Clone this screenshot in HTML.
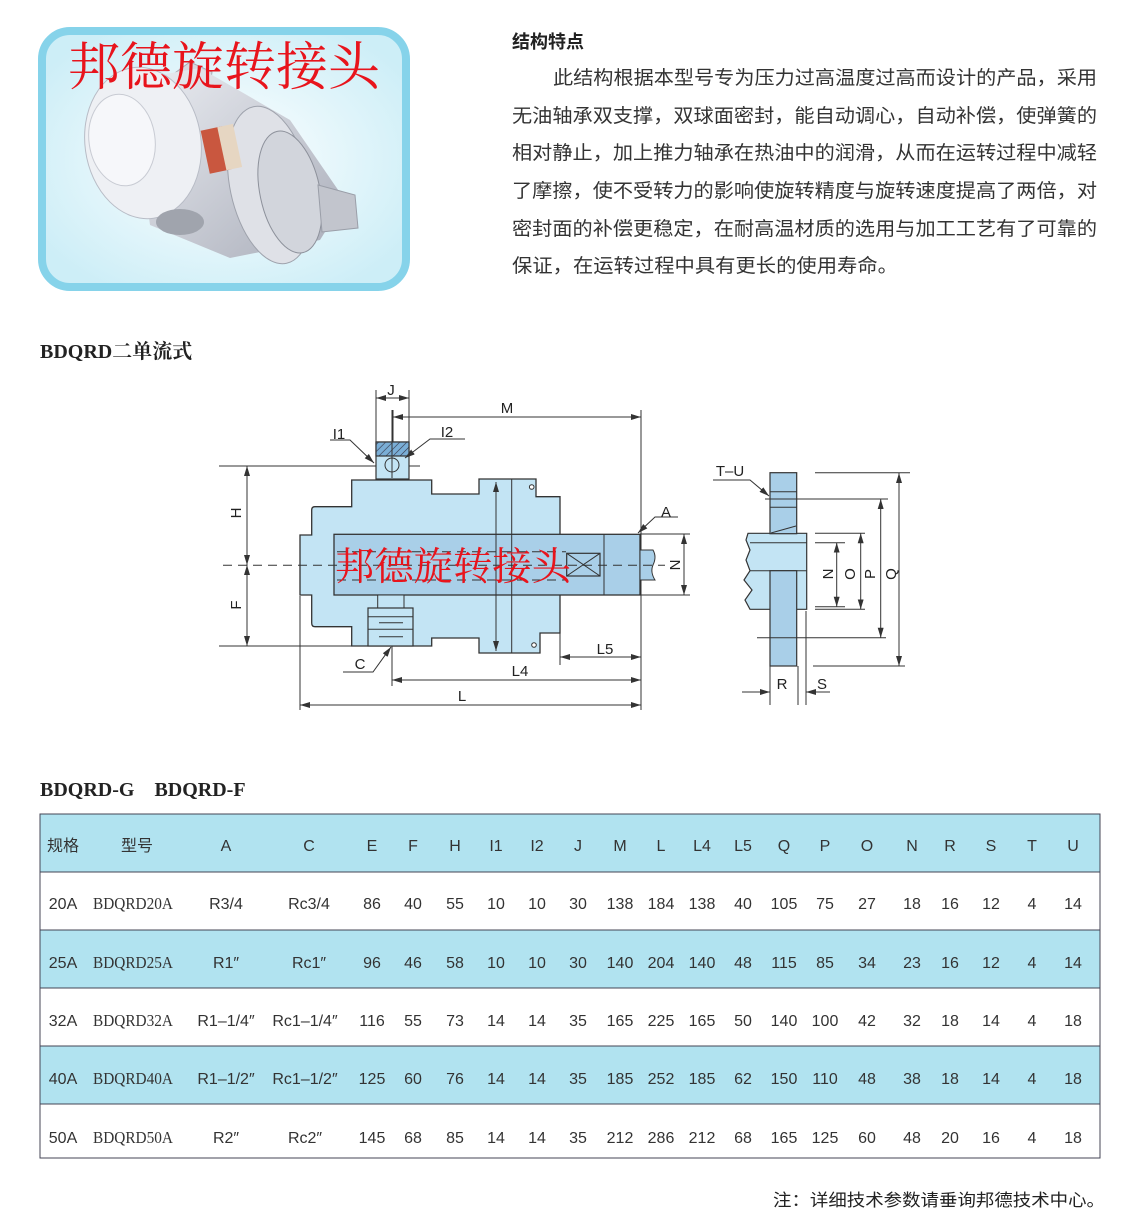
<!DOCTYPE html>
<html><head><meta charset="utf-8"><style>
html,body{margin:0;padding:0;background:#fff;}
svg{display:block;}
.s{font-family:"Liberation Sans","Noto Sans CJK SC",sans-serif;}
.c{font-family:"Liberation Sans","Noto Sans CJK SC",sans-serif;}
.sf{font-family:"Liberation Serif","Noto Serif CJK SC",serif;}
</style></head><body>
<svg width="1134" height="1230" viewBox="0 0 1134 1230" xmlns="http://www.w3.org/2000/svg">
<defs>
<radialGradient id="pg" cx="50%" cy="50%" r="60%"><stop offset="0" stop-color="#ffffff"/><stop offset="1" stop-color="#cdeef7"/></radialGradient>
<linearGradient id="dv" x1="0" y1="0" x2="1" y2="1"><stop offset="0" stop-color="#eceef3"/><stop offset="1" stop-color="#a9adb9"/></linearGradient>
<pattern id="hat" width="5" height="5" patternUnits="userSpaceOnUse" patternTransform="rotate(45)"><rect width="5" height="5" fill="#7aaed6"/><line x1="0" y1="0" x2="0" y2="5" stroke="#334" stroke-width="1.2"/></pattern>
<marker id="ar" markerWidth="10" markerHeight="6" refX="10" refY="3" orient="auto-start-reverse" markerUnits="userSpaceOnUse"><path d="M0,0 L10,3 L0,6 Z" fill="#333"/></marker>
</defs>

<!-- photo -->
<rect x="42" y="31" width="364" height="256" rx="28" fill="url(#pg)" stroke="#86d3ea" stroke-width="8"/>
<g>
<path d="M172,75 L190,62 L212,72 L208,100 Z" fill="#d6d9e0" stroke="#a8acb6"/>
<path d="M130,80 L200,68 L290,120 L345,200 L320,240 L230,258 L150,225 Z" fill="url(#dv)"/>
<ellipse cx="270" cy="185" rx="40" ry="80" transform="rotate(-12 270 185)" fill="#dfe1e7" stroke="#9ea2ac"/>
<ellipse cx="290" cy="192" rx="30" ry="62" transform="rotate(-12 290 192)" fill="#d2d5dc" stroke="#8d919b"/>
<path d="M318,185 L355,195 L358,228 L322,232 Z" fill="#c2c5cd" stroke="#9a9ea8"/>
<ellipse cx="143" cy="143" rx="58" ry="76" transform="rotate(-8 143 143)" fill="#eef0f4" stroke="#b8bcc6"/>
<ellipse cx="122" cy="140" rx="33" ry="46" transform="rotate(-8 122 140)" fill="#f6f7fa" stroke="#c8cbd3"/>
<ellipse cx="180" cy="222" rx="24" ry="13" fill="#a0a4ad"/>
<rect x="205" y="128" width="22" height="44" fill="#c9573f" transform="rotate(-12 216 150)"/>
<rect x="222" y="128" width="16" height="44" fill="#e6d6c2" transform="rotate(-12 216 150)"/>
</g>
<text x="68" y="85" class="sf" font-size="52" fill="#e8141c">邦德旋转接头</text>

<!-- description -->
<text x="512" y="48" class="c" font-size="18" font-weight="bold" fill="#222">结构特点</text>
<g class="c" font-size="19" fill="#333">
<text x="553" y="84" textLength="544" lengthAdjust="spacingAndGlyphs">此结构根据本型号专为压力过高温度过高而设计的产品，采用</text>
<text x="512" y="122" textLength="585" lengthAdjust="spacingAndGlyphs">无油轴承双支撑，双球面密封，能自动调心，自动补偿，使弹簧的</text>
<text x="512" y="159" textLength="585" lengthAdjust="spacingAndGlyphs">相对静止，加上推力轴承在热油中的润滑，从而在运转过程中减轻</text>
<text x="512" y="197" textLength="585" lengthAdjust="spacingAndGlyphs">了摩擦，使不受转力的影响使旋转精度与旋转速度提高了两倍，对</text>
<text x="512" y="235" textLength="585" lengthAdjust="spacingAndGlyphs">密封面的补偿更稳定，在耐高温材质的选用与加工工艺有了可靠的</text>
<text x="512" y="272" textLength="386" lengthAdjust="spacingAndGlyphs">保证，在运转过程中具有更长的使用寿命。</text>
</g>

<text x="40" y="358" class="sf" font-size="20" font-weight="bold" fill="#222">BDQRD二单流式</text>

<!-- main drawing -->
<g stroke="#333" stroke-width="1" fill="none">
<line x1="376" y1="390" x2="376" y2="442"/><line x1="409" y1="390" x2="409" y2="442"/>
<line x1="393" y1="410" x2="393" y2="470"/>
<line x1="641" y1="410" x2="641" y2="710"/>
<line x1="219" y1="466" x2="420" y2="466"/>
<line x1="219" y1="646" x2="390" y2="646"/>
<line x1="560" y1="596" x2="560" y2="665"/>
<line x1="392" y1="646" x2="392" y2="686"/>
<line x1="300" y1="596" x2="300" y2="710"/>
</g>
<path d="M300,535 L311.7,535 L311.7,510 Q311.7,506.7 315,506.7 L351.7,506.7 L351.7,480 L431.7,480 L431.7,494 L479,494 L479,479 L536,479 L536,496.7 L560,496.7 L560,633 L540,633 L540,653 L479,653 L479,638 L431.7,638 L431.7,646 L351.7,646 L351.7,626.7 L315,626.7 Q311.7,626.7 311.7,623 L311.7,595 L300,595 Z" fill="#c3e4f4" stroke="#333" stroke-width="1.3"/>
<rect x="334" y="534.3" width="306" height="60.7" fill="#a9cfe8" stroke="#333" stroke-width="1.3"/>
<line x1="604" y1="534.3" x2="604" y2="595" stroke="#333"/>
<path d="M640,550 L653,550 Q657,557 653,565 Q650,572 655,580 L640,580 Z" fill="#a9cfe8" stroke="#333"/>
<rect x="566.7" y="553.3" width="33.3" height="22.7" fill="none" stroke="#333" stroke-width="1.2"/>
<line x1="566.7" y1="553.3" x2="600" y2="576" stroke="#333"/><line x1="566.7" y1="576" x2="600" y2="553.3" stroke="#333"/>
<line x1="511.7" y1="479" x2="511.7" y2="653" stroke="#333"/>
<circle cx="531.7" cy="487" r="2.3" fill="#fff" stroke="#333"/>
<circle cx="534" cy="645" r="2.3" fill="#fff" stroke="#333"/>
<rect x="376" y="442" width="33" height="37" fill="#c3e4f4" stroke="#333" stroke-width="1.2"/>
<rect x="376" y="442" width="33" height="14" fill="url(#hat)" stroke="#333" stroke-width="1.2"/>
<circle cx="392" cy="465" r="7" fill="none" stroke="#333"/>
<line x1="392" y1="410" x2="392" y2="478" stroke="#333"/>
<rect x="377.7" y="595" width="26.3" height="13" fill="#c3e4f4" stroke="#333"/>
<rect x="368" y="608" width="45" height="38" fill="#c3e4f4" stroke="#333" stroke-width="1.2"/>
<line x1="368" y1="616.7" x2="413" y2="616.7" stroke="#333"/><line x1="368" y1="629.3" x2="413" y2="629.3" stroke="#333"/>
<line x1="379" y1="622.7" x2="403" y2="622.7" stroke="#333"/><line x1="379" y1="636.7" x2="403" y2="636.7" stroke="#333"/>
<g stroke="#333" stroke-dasharray="9,6">
<line x1="223" y1="565.3" x2="665" y2="565.3"/>
<line x1="337" y1="551.7" x2="566" y2="551.7"/>
<line x1="337" y1="580" x2="566" y2="580"/>
</g>
<g stroke="#333" stroke-width="1" fill="none">
<line x1="376" y1="398" x2="409" y2="398" marker-start="url(#ar)" marker-end="url(#ar)"/>
<line x1="393" y1="417" x2="641" y2="417" marker-start="url(#ar)" marker-end="url(#ar)"/>
<line x1="247" y1="466" x2="247" y2="565" marker-start="url(#ar)" marker-end="url(#ar)"/>
<line x1="247" y1="565" x2="247" y2="646" marker-start="url(#ar)" marker-end="url(#ar)"/>
<line x1="496" y1="482" x2="496" y2="651" marker-start="url(#ar)" marker-end="url(#ar)"/>
<line x1="560" y1="657" x2="641" y2="657" marker-start="url(#ar)" marker-end="url(#ar)"/>
<line x1="392" y1="680" x2="641" y2="680" marker-start="url(#ar)" marker-end="url(#ar)"/>
<line x1="300" y1="705" x2="641" y2="705" marker-start="url(#ar)" marker-end="url(#ar)"/>
<line x1="640" y1="534" x2="690" y2="534"/><line x1="640" y1="595" x2="690" y2="595"/>
<line x1="684" y1="534" x2="684" y2="595" marker-start="url(#ar)" marker-end="url(#ar)"/>
<polyline points="330,440 350,440 374,463" marker-end="url(#ar)"/>
<polyline points="465,439 430,439 405,458" marker-end="url(#ar)"/>
<polyline points="343,672 373,672 391,647" marker-end="url(#ar)"/>
<polyline points="678,517 655,517 638,533" marker-end="url(#ar)"/>
</g>
<g class="s" font-size="15" fill="#222" text-anchor="middle">
<text x="391" y="395">J</text>
<text x="507" y="413">M</text>
<text x="339" y="439">I1</text>
<text x="447" y="437">I2</text>
<text x="666" y="517">A</text>
<text x="360" y="669">C</text>
<text x="605" y="654">L5</text>
<text x="520" y="676">L4</text>
<text x="462" y="701">L</text>
<text x="236" y="513" transform="rotate(-90 236 513)" dy="5">H</text>
<text x="236" y="605" transform="rotate(-90 236 605)" dy="5">F</text>
<text x="675" y="565" transform="rotate(-90 675 565)" dy="5">N</text>
</g>
<text x="335" y="580" class="sf" font-size="39" fill="#e8141c" textLength="236" lengthAdjust="spacingAndGlyphs">邦德旋转接头</text>

<!-- side view -->
<path d="M748,533.3 L806.7,533.3 L806.7,609.3 L750,609.3 L745,600 L752,590 L744,580 L750,570.7 L746,560 L750,550 L746,540 Z" fill="#c3e4f4" stroke="#333" stroke-width="1.2"/>
<line x1="750" y1="542.7" x2="806.7" y2="542.7" stroke="#333"/>
<line x1="750" y1="570.7" x2="806.7" y2="570.7" stroke="#333"/>
<rect x="770" y="472.7" width="26.7" height="61" fill="#a9cfe8" stroke="#333" stroke-width="1.2"/>
<rect x="770" y="570.7" width="26.7" height="95.3" fill="#a9cfe8" stroke="#333" stroke-width="1.2"/>
<line x1="770" y1="491.7" x2="796.7" y2="491.7" stroke="#333"/>
<line x1="770" y1="507.3" x2="796.7" y2="507.3" stroke="#333"/>
<line x1="771" y1="533" x2="796" y2="526" stroke="#333"/>
<g stroke="#333" stroke-width="1" fill="none">
<line x1="815" y1="472.7" x2="910" y2="472.7"/><line x1="813" y1="666" x2="905" y2="666"/>
<line x1="899" y1="473" x2="899" y2="666" marker-start="url(#ar)" marker-end="url(#ar)"/>
<line x1="765" y1="499" x2="888" y2="499"/><line x1="757" y1="637.7" x2="886" y2="637.7"/>
<line x1="880.7" y1="499" x2="880.7" y2="637.7" marker-start="url(#ar)" marker-end="url(#ar)"/>
<line x1="815" y1="533.3" x2="865" y2="533.3"/><line x1="815" y1="609.3" x2="865" y2="609.3"/>
<line x1="860.7" y1="533.3" x2="860.7" y2="609.3" marker-start="url(#ar)" marker-end="url(#ar)"/>
<line x1="815" y1="542.7" x2="845" y2="542.7"/><line x1="815" y1="606.7" x2="845" y2="606.7"/>
<line x1="836.7" y1="542.7" x2="836.7" y2="606.7" marker-start="url(#ar)" marker-end="url(#ar)"/>
<polyline points="713,480 750,480 769,496" marker-end="url(#ar)"/>
<line x1="770" y1="666" x2="770" y2="705"/><line x1="798" y1="666" x2="798" y2="705"/><line x1="806" y1="611" x2="806" y2="705"/>
<line x1="742" y1="692" x2="770" y2="692" marker-end="url(#ar)"/>
<line x1="830" y1="692" x2="806" y2="692" marker-end="url(#ar)"/>
</g>
<g class="s" font-size="15" fill="#222" text-anchor="middle">
<text x="730" y="476">T–U</text>
<text x="782" y="689">R</text>
<text x="822" y="689">S</text>
<text x="828" y="574" transform="rotate(-90 828 574)" dy="5">N</text>
<text x="850" y="574" transform="rotate(-90 850 574)" dy="5">O</text>
<text x="870" y="574" transform="rotate(-90 870 574)" dy="5">P</text>
<text x="891" y="574" transform="rotate(-90 891 574)" dy="5">Q</text>
</g>

<text x="40" y="796" class="sf" font-size="20" font-weight="bold" fill="#222">BDQRD-G　BDQRD-F</text>

<rect x="40" y="814" width="1060" height="58" fill="#b1e3f0"/>
<rect x="40" y="872" width="1060" height="58" fill="#ffffff"/>
<rect x="40" y="930" width="1060" height="58" fill="#b1e3f0"/>
<rect x="40" y="988" width="1060" height="58" fill="#ffffff"/>
<rect x="40" y="1046" width="1060" height="58" fill="#b1e3f0"/>
<rect x="40" y="1104" width="1060" height="54" fill="#ffffff"/>
<g stroke="#445" stroke-width="1">
<rect x="40" y="814" width="1060" height="344" fill="none"/>
<line x1="40" y1="872" x2="1100" y2="872"/><line x1="40" y1="930" x2="1100" y2="930"/>
<line x1="40" y1="988" x2="1100" y2="988"/><line x1="40" y1="1046" x2="1100" y2="1046"/>
<line x1="40" y1="1104" x2="1100" y2="1104"/>
</g>
<g class="s" font-size="16" fill="#333" text-anchor="middle">
<text y="851"><tspan x="63">规格</tspan><tspan x="137">型号</tspan><tspan x="226">A</tspan><tspan x="309">C</tspan><tspan x="372">E</tspan><tspan x="413">F</tspan><tspan x="455">H</tspan><tspan x="496">I1</tspan><tspan x="537">I2</tspan><tspan x="578">J</tspan><tspan x="620">M</tspan><tspan x="661">L</tspan><tspan x="702">L4</tspan><tspan x="743">L5</tspan><tspan x="784">Q</tspan><tspan x="825">P</tspan><tspan x="867">O</tspan><tspan x="912">N</tspan><tspan x="950">R</tspan><tspan x="991">S</tspan><tspan x="1032">T</tspan><tspan x="1073">U</tspan></text>
<text y="909"><tspan x="63">20A</tspan><tspan x="226">R3/4</tspan><tspan x="309">Rc3/4</tspan><tspan x="372">86</tspan><tspan x="413">40</tspan><tspan x="455">55</tspan><tspan x="496">10</tspan><tspan x="537">10</tspan><tspan x="578">30</tspan><tspan x="620">138</tspan><tspan x="661">184</tspan><tspan x="702">138</tspan><tspan x="743">40</tspan><tspan x="784">105</tspan><tspan x="825">75</tspan><tspan x="867">27</tspan><tspan x="912">18</tspan><tspan x="950">16</tspan><tspan x="991">12</tspan><tspan x="1032">4</tspan><tspan x="1073">14</tspan></text>
<text y="968"><tspan x="63">25A</tspan><tspan x="226">R1″</tspan><tspan x="309">Rc1″</tspan><tspan x="372">96</tspan><tspan x="413">46</tspan><tspan x="455">58</tspan><tspan x="496">10</tspan><tspan x="537">10</tspan><tspan x="578">30</tspan><tspan x="620">140</tspan><tspan x="661">204</tspan><tspan x="702">140</tspan><tspan x="743">48</tspan><tspan x="784">115</tspan><tspan x="825">85</tspan><tspan x="867">34</tspan><tspan x="912">23</tspan><tspan x="950">16</tspan><tspan x="991">12</tspan><tspan x="1032">4</tspan><tspan x="1073">14</tspan></text>
<text y="1026"><tspan x="63">32A</tspan><tspan x="226">R1–1/4″</tspan><tspan x="305">Rc1–1/4″</tspan><tspan x="372">116</tspan><tspan x="413">55</tspan><tspan x="455">73</tspan><tspan x="496">14</tspan><tspan x="537">14</tspan><tspan x="578">35</tspan><tspan x="620">165</tspan><tspan x="661">225</tspan><tspan x="702">165</tspan><tspan x="743">50</tspan><tspan x="784">140</tspan><tspan x="825">100</tspan><tspan x="867">42</tspan><tspan x="912">32</tspan><tspan x="950">18</tspan><tspan x="991">14</tspan><tspan x="1032">4</tspan><tspan x="1073">18</tspan></text>
<text y="1084"><tspan x="63">40A</tspan><tspan x="226">R1–1/2″</tspan><tspan x="305">Rc1–1/2″</tspan><tspan x="372">125</tspan><tspan x="413">60</tspan><tspan x="455">76</tspan><tspan x="496">14</tspan><tspan x="537">14</tspan><tspan x="578">35</tspan><tspan x="620">185</tspan><tspan x="661">252</tspan><tspan x="702">185</tspan><tspan x="743">62</tspan><tspan x="784">150</tspan><tspan x="825">110</tspan><tspan x="867">48</tspan><tspan x="912">38</tspan><tspan x="950">18</tspan><tspan x="991">14</tspan><tspan x="1032">4</tspan><tspan x="1073">18</tspan></text>
<text y="1143"><tspan x="63">50A</tspan><tspan x="226">R2″</tspan><tspan x="305">Rc2″</tspan><tspan x="372">145</tspan><tspan x="413">68</tspan><tspan x="455">85</tspan><tspan x="496">14</tspan><tspan x="537">14</tspan><tspan x="578">35</tspan><tspan x="620">212</tspan><tspan x="661">286</tspan><tspan x="702">212</tspan><tspan x="743">68</tspan><tspan x="784">165</tspan><tspan x="825">125</tspan><tspan x="867">60</tspan><tspan x="912">48</tspan><tspan x="950">20</tspan><tspan x="991">16</tspan><tspan x="1032">4</tspan><tspan x="1073">18</tspan></text>
</g>
<g class="sf" font-size="17" fill="#333" text-anchor="middle">
<text x="133" y="909" textLength="80" lengthAdjust="spacingAndGlyphs">BDQRD20A</text><text x="133" y="968" textLength="80" lengthAdjust="spacingAndGlyphs">BDQRD25A</text><text x="133" y="1026" textLength="80" lengthAdjust="spacingAndGlyphs">BDQRD32A</text><text x="133" y="1084" textLength="80" lengthAdjust="spacingAndGlyphs">BDQRD40A</text><text x="133" y="1143" textLength="80" lengthAdjust="spacingAndGlyphs">BDQRD50A</text>
</g>
<text x="773" y="1206" class="c" font-size="17" fill="#222" textLength="332" lengthAdjust="spacingAndGlyphs">注：详细技术参数请垂询邦德技术中心。</text>
</svg>
</body></html>
